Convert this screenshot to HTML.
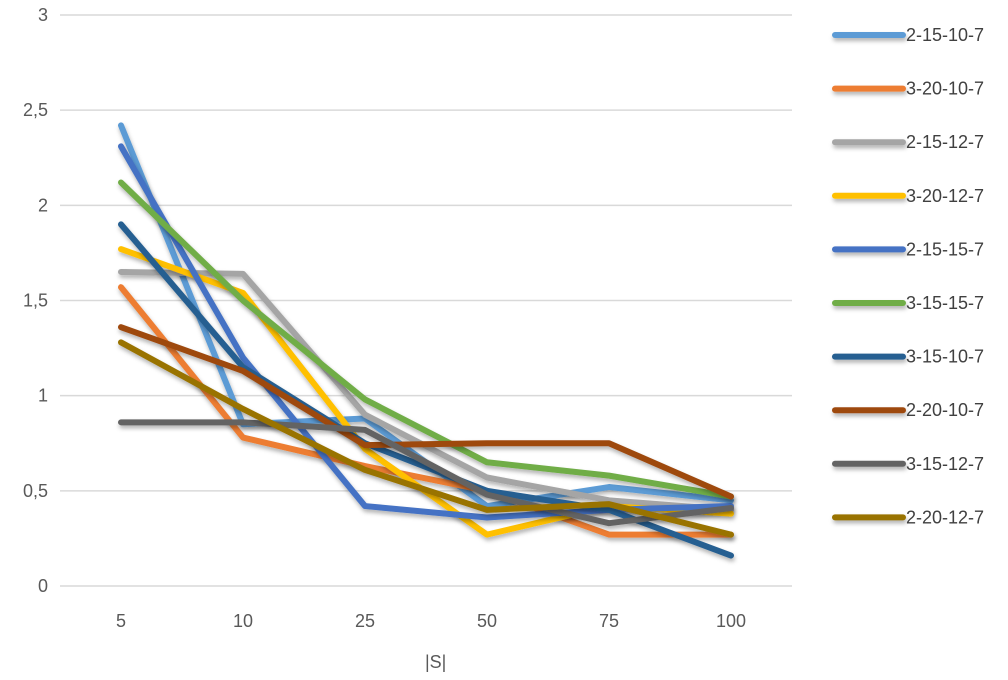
<!DOCTYPE html>
<html><head><meta charset="utf-8"><style>
body{margin:0;background:#fff;font-family:"Liberation Sans",sans-serif;}
svg text{font-family:"Liberation Sans",sans-serif;fill:#595959;}
</style></head><body>
<svg width="1008" height="675">
<defs><filter id="sh" filterUnits="userSpaceOnUse" x="0" y="0" width="1008" height="675"><feDropShadow dx="1" dy="3" stdDeviation="2" flood-color="#000" flood-opacity="0.3"/></filter></defs>
<g id="grid"></g><g id="series"></g><g id="legend"></g>
<text x="425" y="668" font-size="18">|S|</text>
</svg>
<script>
const categories=["5","10","25","50","75","100"];
const yTicks=[0,0.5,1,1.5,2,2.5,3];
const yTickLabels=["0","0,5","1","1,5","2","2,5","3"];
const seriesNames=["2-15-10-7","3-20-10-7","2-15-12-7","3-20-12-7","2-15-15-7","3-15-15-7","3-15-10-7","2-20-10-7","3-15-12-7","2-20-12-7"];
const colors=["#5b9bd5","#ed7d31","#a5a5a5","#ffc000","#4472c4","#70ad47","#255e91","#9e480e","#636363","#997300"];
const s0=[2.42,0.85,0.88,0.42,0.52,0.45];
const s1=[1.57,0.78,0.63,0.50,0.27,0.27];
const s2=[1.65,1.64,0.90,0.57,0.45,0.40];
const s3=[1.77,1.54,0.72,0.27,0.42,0.38];
const s4=[2.31,1.20,0.42,0.36,0.40,0.42];
const s5=[2.12,1.50,0.98,0.65,0.58,0.47];
const s6=[1.90,1.15,0.75,0.50,0.40,0.16];
const s7=[1.36,1.13,0.74,0.75,0.75,0.47];
const s8=[0.86,0.86,0.82,0.48,0.33,0.41];
const s9=[1.28,0.93,0.61,0.40,0.43,0.27];
const seriesValues=[s0,s1,s2,s3,s4,s5,s6,s7,s8,s9];
const NS="http://www.w3.org/2000/svg";
const x0=60,x1=792,yBase=586,yTop=15,yMax=3;
const xs=i=>x0+(x1-x0)*(i+0.5)/categories.length;
const ys=v=>yBase-(yBase-yTop)*v/yMax;
function mk(t,a,p){const e=document.createElementNS(NS,t);for(const k in a)e.setAttribute(k,a[k]);p.appendChild(e);return e;}
const grid=document.getElementById('grid');
yTicks.forEach((v,i)=>{
 const l=mk('line',{x1:x0,x2:x1,y1:ys(v),y2:ys(v),stroke:'#d9d9d9','stroke-width':1.5},grid);
 
 
 const t=mk('text',{x:48,y:ys(v)+6,'font-size':18,'text-anchor':'end'},grid);
 t.textContent=yTickLabels[i];
 
 
});
categories.forEach((c,i)=>{
 const t=mk('text',{x:xs(i),y:627,'font-size':18,'text-anchor':'middle'},grid);
 t.textContent=c;
 
 
});
const sg=document.getElementById('series');
seriesValues.forEach((vals,k)=>{
 const d=vals.map((v,i)=>(i?'L':'M')+xs(i)+' '+ys(v)).join(' ');
 const p=mk('path',{d:d,fill:'none',stroke:colors[k],'stroke-width':6,'stroke-linecap':'round','stroke-linejoin':'round',filter:'url(#sh)'},sg);
 
 
});
const lg=document.getElementById('legend');
seriesNames.forEach((n,k)=>{
 const y=35+k*53.6;
 const g=mk('g',{},lg);
 
 
 mk('line',{x1:835,x2:903,y1:y,y2:y,stroke:colors[k],'stroke-width':6,'stroke-linecap':'round',filter:'url(#sh)'},g);
 const t=mk('text',{x:906,y:y+6,'font-size':18,style:'fill:#404040'},g);
 t.textContent=n;
});
</script>
</body></html>
